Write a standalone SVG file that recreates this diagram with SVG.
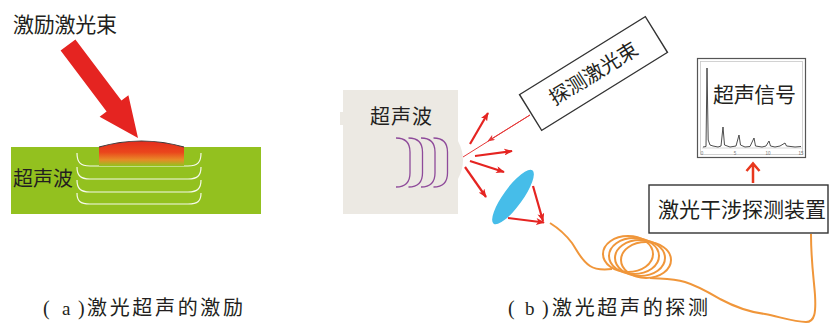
<svg xmlns="http://www.w3.org/2000/svg" width="829" height="323" viewBox="0 0 829 323">
  <style>
    .t { font-family: "Noto Sans CJK SC", "Noto Sans", sans-serif; fill: #231f20; }
    .lat { font-family: "Liberation Serif", serif; fill: #231f20; }
    .ray { stroke: #e52421; stroke-width: 2.2; fill: none; marker-end: url(#ah); }
    .wave { fill: none; stroke: #ffffff; stroke-width: 1.2; opacity: 0.9; }
    .pw { fill: none; stroke: #8e4a9a; stroke-width: 1.3; }
    .box { fill: #ffffff; stroke: #333333; stroke-width: 1.4; }
  </style>
  <defs>
    <marker id="ah" viewBox="0 0 10 8" refX="9" refY="4" markerWidth="9" markerHeight="7" markerUnits="userSpaceOnUse" orient="auto">
      <path d="M0,0 L10,4 L0,8 L2.5,4 Z" fill="#e52421"/>
    </marker>
    <marker id="ahThin" viewBox="0 0 10 8" refX="9" refY="4" markerWidth="8" markerHeight="6" markerUnits="userSpaceOnUse" orient="auto">
      <path d="M0,0 L10,4 L0,8 L2.5,4 Z" fill="#e53a3a"/>
    </marker>
    <linearGradient id="heat" x1="0" y1="141" x2="0" y2="166" gradientUnits="userSpaceOnUse">
      <stop offset="0" stop-color="#e42d1e"/>
      <stop offset="0.45" stop-color="#ea461c"/>
      <stop offset="0.75" stop-color="#e88a28"/>
      <stop offset="1" stop-color="#93c11f"/>
    </linearGradient>
  </defs>

  <!-- (a) excitation -->
  <g id="excitation">
    <rect x="11" y="147" width="250" height="67" fill="#93c11f"/>
    <path class="wave" d="M77,153 C77,162 80,166 90,166 L188,166 C198,166 201,162 201,153"/>
    <path class="wave" d="M77,167 C77,175 80,179 90,179 L188,179 C198,179 201,175 201,167"/>
    <path class="wave" d="M77,180 C77,188 80,192 90,192 L188,192 C198,192 201,188 201,180"/>
    <path class="wave" d="M77,193 C77,201 80,204 90,204 L188,204 C198,204 201,201 201,193"/>
    <path d="M99,147 Q141.5,135 184,147 L184,166 L99,166 Z" fill="url(#heat)"/>
    <path d="M99,147 Q141.5,135 184,147" fill="none" stroke="#3a3a3a" stroke-width="1.2"/>
    <polygon points="60.6,50.5 106.6,111.5 99.6,116.8 138,138 128.4,95.2 121.4,100.5 75.4,39.5" fill="#e52421"/>
    <text class="t" x="13" y="32" font-size="21" textLength="104">激励激光束</text>
    <text class="t" x="13" y="186" font-size="20" textLength="60">超声波</text>
  </g>

  <!-- (b) detection: specimen -->
  <g id="specimen">
    <rect x="343" y="90" width="115" height="124" fill="#ece9e3"/>
    <path d="M458,141 Q468,160 458,179 Z" fill="#ece9e3"/>
    <rect x="340" y="112" width="4" height="13" fill="#ece9e3"/>
    <path class="pw" d="M396,138 Q410,138 410,152 L410,173 Q410,187 396,187"/>
    <path class="pw" d="M408.5,138 Q422.5,138 422.5,152 L422.5,173 Q422.5,187 408.5,187"/>
    <path class="pw" d="M421,138 Q435,138 435,152 L435,173 Q435,187 421,187"/>
    <path class="pw" d="M433.5,138 Q447.5,138 447.5,152 L447.5,173 Q447.5,187 433.5,187"/>
    <text class="t" x="370" y="124" font-size="20" textLength="62">超声波</text>
  </g>

  <!-- probe beam label -->
  <g id="probe-beam">
    <g transform="translate(593.5,73.5) rotate(-31.8)">
      <rect class="box" x="-74" y="-21" width="148" height="42"/>
      <text class="t" x="0" y="7" font-size="20" text-anchor="middle">探测激光束</text>
    </g>
  </g>

  <!-- collecting lens -->
  <g id="lens">
    <ellipse cx="513" cy="197" rx="33" ry="9.5" transform="rotate(-54 513 197)" fill="#46bde9"/>
  </g>

  <!-- signal plot -->
  <g id="signal">
    <rect x="697.5" y="58.5" width="108" height="99" fill="#ffffff" stroke="#555555" stroke-width="1.2"/>
    <rect x="700.5" y="61.5" width="102" height="93" fill="none" stroke="#c8c8c8" stroke-width="0.8"/>
    <line x1="702" y1="148" x2="802" y2="148" stroke="#bdbdbd" stroke-width="0.6"/>
    <path d="M703,147 L706,146.5 L707,68 L708.2,140 L710,145 L713,146 L718,147 L721,146 L723,127 L724.5,145 L730,147 L736,146 L739,135 L740.5,145 L745,147 L750,146.5 L754,138 L755.5,146 L762,147 L766,146 L769,141 L770.5,146 L775,147 L780,146 L785,143 L786.5,146 L795,147 L801,146.5" fill="none" stroke="#3a3a3a" stroke-width="0.9"/>
    <g font-family="Liberation Sans, sans-serif" font-size="4.5" fill="#777777" text-anchor="middle">
      <text x="702" y="155">0</text>
      <text x="735" y="155">5</text>
      <text x="768" y="155">10</text>
      <text x="801" y="155">15</text>
    </g>
    <text class="t" x="713" y="102" font-size="21" textLength="83">超声信号</text>
  </g>

  <!-- interferometer -->
  <g id="interferometer">
    <rect class="box" x="649" y="185" width="179" height="48"/>
    <text class="t" x="658" y="217" font-size="21" textLength="168">激光干涉探测装置</text>
  </g>

  <!-- connectors -->
  <g id="connectors">
    <line x1="530" y1="115" x2="463" y2="157" stroke="#e53a3a" stroke-width="1"/>
    <line x1="530" y1="115" x2="488" y2="141" stroke="#e53a3a" stroke-width="1" marker-end="url(#ahThin)"/>
    <path class="ray" d="M470,144 L488,113"/>
    <path class="ray" d="M475,156 L512,151"/>
    <path class="ray" d="M470,161 L504,172"/>
    <path class="ray" d="M465,167 L486,197"/>
    <path class="ray" d="M508,218 L544,222.5"/>
    <path class="ray" d="M533,186 L543,221"/>
    <path d="M753,183 L753,164 M746.5,171 L753,163.5 L759.5,171" fill="none" stroke="#e8381e" stroke-width="2.5"/>
    <!-- optical fibre with coil -->
    <g fill="none" stroke="#f0963a" stroke-width="2">
      <path d="M550,223 C558,228 566,235 572,243 C578,252 581,260 590,266 C596,270 603,270 612,269"/>
      <ellipse cx="628" cy="254" rx="25" ry="18"/>
      <ellipse cx="634" cy="256" rx="25" ry="18"/>
      <ellipse cx="640" cy="258" rx="25" ry="18"/>
      <ellipse cx="646" cy="260" rx="25" ry="18"/>
      <path d="M650,278 C660,279 672,278 685,282 C698,286 708,292 720,299 C735,307 748,312 765,314 C780,317 795,322 806,322 C815,322 816,312 815,295 C814,280 811,262 811,234"/>
    </g>
  </g>

  <!-- captions -->
  <g id="captions">
    <text class="lat" x="43" y="315" font-size="20">(</text>
    <text class="lat" x="62" y="315" font-size="19">a</text>
    <text class="lat" x="78" y="315" font-size="20">)</text>
    <text class="t" x="87" y="315" font-size="20" textLength="156">激光超声的激励</text>
    <text class="lat" x="508" y="315" font-size="20">(</text>
    <text class="lat" x="525" y="315" font-size="19">b</text>
    <text class="lat" x="542" y="315" font-size="20">)</text>
    <text class="t" x="552" y="315" font-size="20" textLength="156">激光超声的探测</text>
  </g>
</svg>
